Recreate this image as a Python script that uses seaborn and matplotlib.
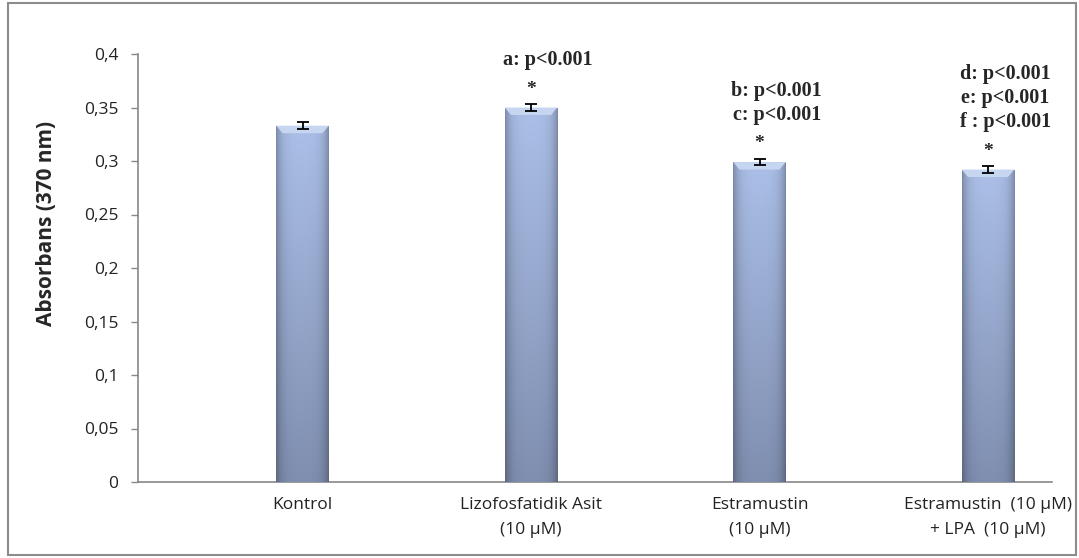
import numpy as np
import matplotlib
matplotlib.use("Agg")
import matplotlib.pyplot as plt
import seaborn as sns
from matplotlib.patches import Rectangle, Polygon
from matplotlib.ticker import FuncFormatter

# values
categories = ["Kontrol", "Lizofosfatidik Asit\n(10 µM)", "Estramustin\n(10 µM)",
              "Estramustin  (10 µM)\n+ LPA  (10 µM)"]
means = [0.333, 0.350, 0.299, 0.292]
errors = [0.003, 0.003, 0.003, 0.003]
y_ticks = [0, 0.05, 0.1, 0.15, 0.2, 0.25, 0.3, 0.35, 0.4]

# significance notes per bar (bar index, lines of text)
notes = {1: ["a: p<0.001"],
         2: ["b: p<0.001", "c: p<0.001"],
         3: ["d: p<0.001", "e: p<0.001", "f : p<0.001"]}

sns.set_style("white")
plt.rcParams["font.family"] = ["Open Sans", "DejaVu Sans"]

fig = plt.figure(figsize=(10.79, 5.58), dpi=100)
ax = fig.add_axes([138 / 1079, 1 - 482 / 558, (1052 - 138) / 1079, (482 - 54) / 558])

sns.barplot(x=categories, y=means, width=0.23, color="#a3b6dc", edgecolor="none",
            errorbar=None, ax=ax, zorder=2)

# cylinder-ish shading like the Excel original
u = np.linspace(-1, 1, 60)
v = np.linspace(0, 1, 200)[:, None]
side = 1 - 0.22 * np.abs(u) ** 5 - 0.05 * u ** 2
top = np.array([0.67, 0.75, 0.91])
bottom = np.array([0.50, 0.56, 0.69])
for p in list(ax.patches):
    x0, w, h = p.get_x(), p.get_width(), p.get_height()
    col = bottom + (top - bottom) * v[..., None]
    img = np.clip(col * side[None, :, None], 0, 1)
    im = ax.imshow(img, extent=(x0, x0 + w, 0, h), origin="lower", aspect="auto",
                   zorder=3, interpolation="bilinear")
    im.set_clip_path(p)
    # light bevel at the top edge
    d = 0.007
    bev = Polygon([(x0, h), (x0 + w, h), (x0 + w - w * 0.12, h - d), (x0 + w * 0.12, h - d)],
                  closed=True, color="#c6d5f0", lw=0, zorder=4)
    ax.add_patch(bev)

ax.errorbar(range(len(means)), means, yerr=errors, fmt="none", ecolor="black",
            elinewidth=1.3, capsize=4, capthick=1.3, zorder=5)

# annotations
star_gap = 0.017
first_gap = 0.044
line_h = 0.0228
for i, lines in notes.items():
    ax.text(i, means[i] + star_gap, "*", ha="center", va="center", fontsize=14,
            fontweight="bold", family="Liberation Serif", zorder=6)
    for k, line in enumerate(reversed(lines)):
        ax.text(i + 0.075, means[i] + first_gap + k * line_h, line, ha="center",
                va="center", fontsize=14.5, fontweight="bold",
                family="Liberation Serif", clip_on=False, zorder=6)

ax.set_xlim(-0.72, 3.28)
ax.set_ylim(0, 0.4)
ax.set_yticks(y_ticks)
ax.yaxis.set_major_formatter(FuncFormatter(lambda val, pos: f"{val:g}".replace(".", ",")))
ax.set_xticks(range(len(categories)))
ax.set_xticklabels(categories, linespacing=1.75)
ax.set_xticks([-0.72, 0.28, 1.28, 2.28, 3.28], minor=True)
ax.tick_params(axis="x", which="major", length=0, pad=11, labelsize=12.5, labelcolor="#222222")
ax.tick_params(axis="x", which="minor", length=6, width=1, color="#888888", direction="out")
ax.tick_params(axis="y", length=5, width=1, color="#888888", direction="out", pad=9,
               labelsize=12.5, labelcolor="#222222", left=True)
ax.set_ylabel("Absorbans (370 nm)", fontsize=15, fontweight="bold")
ax.yaxis.set_label_coords(-0.089, 0.603)

sns.despine(ax=ax)
for s in ["left", "bottom"]:
    ax.spines[s].set_color("#888888")
    ax.spines[s].set_linewidth(1.2)

# outer chart border
fig.patches.append(Rectangle((8 / 1079, 3 / 558), 1068 / 1079, 552 / 558,
                             transform=fig.transFigure, fill=False,
                             edgecolor="#8c8c8c", lw=1.5))

fig.savefig("out.png", dpi=100)
